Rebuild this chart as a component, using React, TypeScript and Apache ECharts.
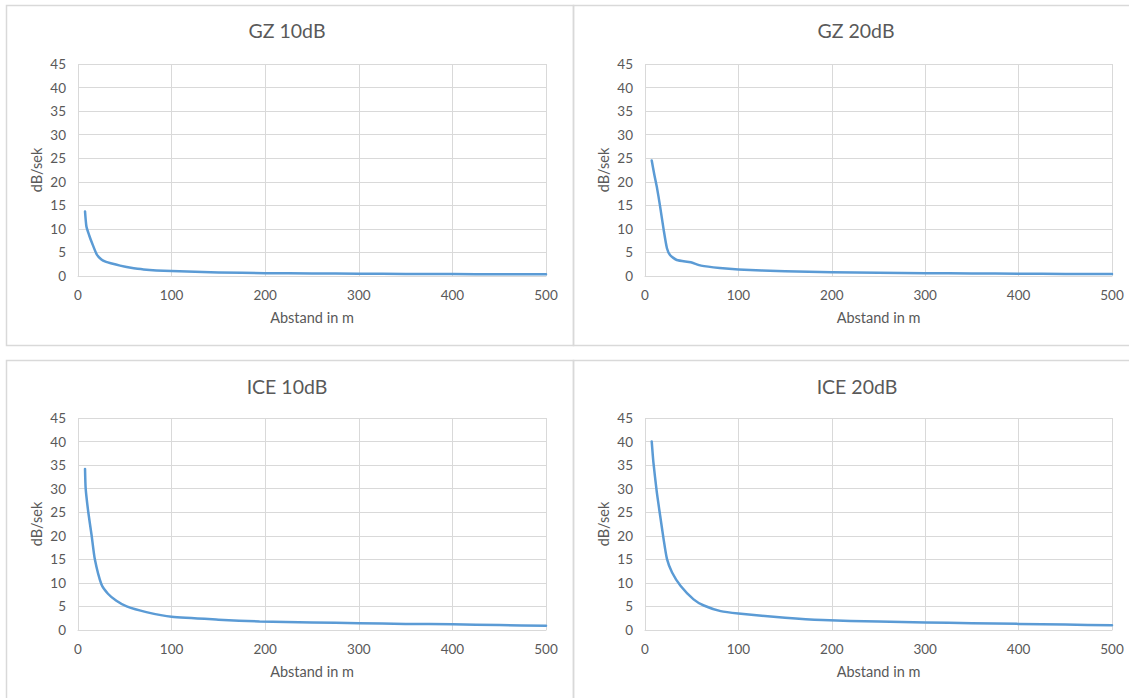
import React, { useEffect, useRef } from "react";
import * as echarts from "echarts";

// ---- Data ----
const titles = ["GZ 10dB", "GZ 20dB", "ICE 10dB", "ICE 20dB"];
const xAxisName = "Abstand in m";
const yAxisName = "dB/sek";

const gz10X = [7.5, 9, 12, 15, 20, 25, 30, 35, 45, 55, 70, 100, 150, 200, 250, 300, 350, 400, 450, 500];
const gz10Y = [13.7, 10.5, 8.6, 7.0, 4.6, 3.5, 3.0, 2.7, 2.2, 1.8, 1.4, 1.05, 0.75, 0.6, 0.55, 0.5, 0.45, 0.4, 0.38, 0.35];

const gz20X = [7.2, 10, 12.6, 16, 20, 23.5, 27, 34, 49, 60, 80, 100, 150, 200, 250, 300, 350, 400, 450, 500];
const gz20Y = [24.5, 21.5, 19, 15, 9.8, 5.9, 4.4, 3.4, 2.9, 2.2, 1.7, 1.4, 1.0, 0.8, 0.7, 0.6, 0.55, 0.5, 0.45, 0.4];

const ice10X = [7.5, 8.2, 11, 14.6, 18, 25, 32, 41, 52, 73, 100, 150, 194, 250, 300, 350, 400, 450, 500];
const ice10Y = [34.2, 30, 25, 20, 15, 9.7, 7.7, 6.2, 5.0, 3.8, 2.8, 2.2, 1.8, 1.6, 1.45, 1.3, 1.2, 1.05, 0.9];

const ice20X = [7.2, 9, 12.6, 16.2, 19.9, 23.5, 29, 38, 52, 63, 81, 100, 150, 190, 250, 300, 350, 400, 450, 500];
const ice20Y = [40, 35.6, 29.3, 24.3, 19.3, 15.1, 12.2, 9.4, 6.5, 5.2, 4.0, 3.5, 2.6, 2.1, 1.8, 1.6, 1.45, 1.3, 1.15, 1.0];

const xTicks = [0, 100, 200, 300, 400, 500];
const yTicks = [0, 5, 10, 15, 20, 25, 30, 35, 40, 45];

const seriesX = [gz10X, gz20X, ice10X, ice20X];
const seriesY = [gz10Y, gz20Y, ice10Y, ice20Y];

const FONT = "Lato, 'Open Sans', sans-serif";
const TEXT = "#595959";
const GRIDC = "#d9d9d9";
const LINEC = "#5b9bd5";

export default function App() {
  const ref = useRef<HTMLDivElement>(null);
  useEffect(() => {
    if (!ref.current) return;
    const chart = echarts.init(ref.current, undefined, { renderer: "svg" });
    const grids = [
      { left: 78, top: 64, width: 468, height: 212 },
      { left: 645, top: 64, width: 467, height: 212 },
      { left: 78, top: 418, width: 468, height: 212 },
      { left: 645, top: 418, width: 467, height: 212 },
    ];
    const titleCenters = [
      [287, 20],
      [856, 20],
      [287, 376],
      [857, 376],
    ];
    const option: any = {
      animation: false,
      backgroundColor: "#ffffff",
      title: titles.map((t, i) => ({
        text: t,
        left: titleCenters[i][0],
        top: titleCenters[i][1],
        textAlign: "center",
        padding: 0,
        textStyle: { fontFamily: FONT, fontSize: 19.5, fontWeight: "normal", color: TEXT },
      })),
      graphic: [
        { type: "rect", shape: { x: 6.5, y: 5.5, width: 567, height: 340 }, style: { fill: "none", stroke: GRIDC, lineWidth: 1.5 }, silent: true },
        { type: "rect", shape: { x: 573.5, y: 5.5, width: 570, height: 340 }, style: { fill: "none", stroke: GRIDC, lineWidth: 1.5 }, silent: true },
        { type: "rect", shape: { x: 6.5, y: 360.5, width: 567, height: 350 }, style: { fill: "none", stroke: GRIDC, lineWidth: 1.5 }, silent: true },
        { type: "rect", shape: { x: 573.5, y: 360.5, width: 570, height: 350 }, style: { fill: "none", stroke: GRIDC, lineWidth: 1.5 }, silent: true },
      ],
      grid: grids.map((g) => ({ ...g, containLabel: false })),
      xAxis: grids.map((_, i) => ({
        type: "value",
        gridIndex: i,
        min: xTicks[0],
        max: xTicks[xTicks.length - 1],
        interval: xTicks[1] - xTicks[0],
        name: xAxisName,
        nameLocation: "middle",
        nameGap: 34,
        nameTextStyle: { fontFamily: FONT, fontSize: 14.5, color: TEXT },
        axisLine: { show: true, lineStyle: { color: GRIDC, width: 1 } },
        axisTick: { show: false },
        axisLabel: { fontFamily: FONT, fontSize: 13.5, color: TEXT, margin: 12 },
        splitLine: { show: true, lineStyle: { color: GRIDC, width: 1 } },
      })),
      yAxis: grids.map((_, i) => ({
        type: "value",
        gridIndex: i,
        min: yTicks[0],
        max: yTicks[yTicks.length - 1],
        interval: yTicks[1] - yTicks[0],
        name: yAxisName,
        nameLocation: "middle",
        nameGap: 34,
        nameTextStyle: { fontFamily: FONT, fontSize: 14.5, color: TEXT },
        axisLine: { show: false },
        axisTick: { show: false },
        axisLabel: { fontFamily: FONT, fontSize: 13.5, color: TEXT, margin: 12 },
        splitLine: { show: true, lineStyle: { color: GRIDC, width: 1 } },
      })),
      series: seriesX.map((xs, i) => ({
        type: "line",
        name: titles[i],
        xAxisIndex: i,
        yAxisIndex: i,
        data: xs.map((x, k) => [x, seriesY[i][k]]),
        showSymbol: false,
        symbol: "none",
        smooth: 0.2,
        lineStyle: { color: LINEC, width: 2.5, join: "round", cap: "round" },
        itemStyle: { color: LINEC },
      })),
    };
    chart.setOption(option);
    return () => chart.dispose();
  }, []);
  return (
    <div
      ref={ref}
      style={{ position: "fixed", left: 0, top: 0, width: 1129, height: 698, background: "#fff" }}
    />
  );
}
